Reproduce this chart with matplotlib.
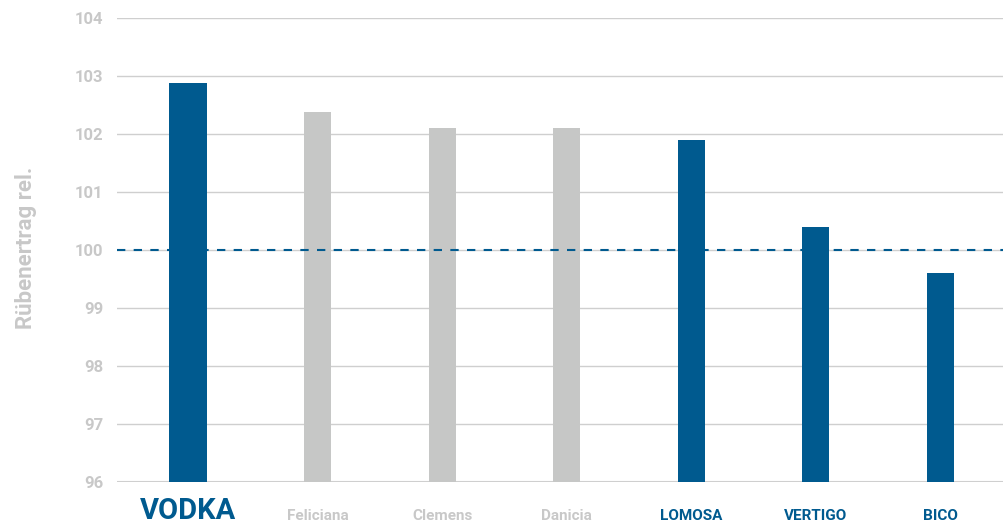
import matplotlib.pyplot as plt
import numpy as np

# Sorten und relative Rübenerträge
sorten = ['VODKA', 'Feliciana', 'Clemens', 'Danicia', 'LOMOSA', 'VERTIGO', 'BICO']
ertrag = [102.88, 102.38, 102.10, 102.10, 101.90, 100.40, 99.60]
eigene = [True, False, False, False, True, True, True]

blau = '#005a8f'
grau_balken = '#c6c7c6'
grau_text = '#c8c8c8'
grau_gitter = '#cfcfcf'

plt.rcParams['font.family'] = ['Roboto', 'DejaVu Sans']

fig = plt.figure(figsize=(10.04, 5.24), dpi=100)
ax = fig.add_axes([117 / 1004, 42 / 524, 1 - 117 / 1004, (482 - 18) / 524])

x = np.arange(len(sorten))
farben = [blau if e else grau_balken for e in eigene]
breiten = [0.305 if i == 0 else 0.217 for i in range(len(sorten))]
x_pos = x.astype(float)
x_pos[0] -= 0.04

ax.bar(x_pos, np.array(ertrag) - 96, bottom=96, width=breiten, color=farben, zorder=2)

# Referenzlinie 100
ax.axhline(100, color=blau, linestyle=(0, (4, 4)), linewidth=1.5, zorder=3)

ax.set_ylim(96, 104)
ax.set_xlim(-0.61, 6.51)
ax.set_yticks(range(96, 105))
ax.tick_params(axis='y', length=0, pad=10, labelsize=12, labelcolor=grau_text)
for lab in ax.get_yticklabels():
    lab.set_fontweight('bold')
ax.set_xticks([])

ax.grid(True, axis='y', color=grau_gitter, linewidth=1, zorder=0)
ax.set_axisbelow(True)
for s in ax.spines.values():
    s.set_visible(False)
ax.axhline(96, color=grau_gitter, linewidth=1.5, zorder=1)

# Sortennamen
trans = ax.get_xaxis_transform()
for i, (name, e) in enumerate(zip(sorten, eigene)):
    if i == 0:
        ax.text(x_pos[i], -0.079, name, transform=trans, ha='center', va='baseline',
                fontsize=21, fontweight='bold', color=blau)
    else:
        ax.text(x_pos[i], -0.082, name, transform=trans, ha='center', va='baseline',
                fontsize=11, fontweight='bold', color=blau if e else grau_text)

fig.text(26 / 1004, 1 - 248 / 524, 'Rübenertrag rel.', rotation=90, ha='center', va='center',
         fontsize=16, fontweight='bold', color=grau_text)

plt.savefig('out.png', dpi=100, facecolor='white')
